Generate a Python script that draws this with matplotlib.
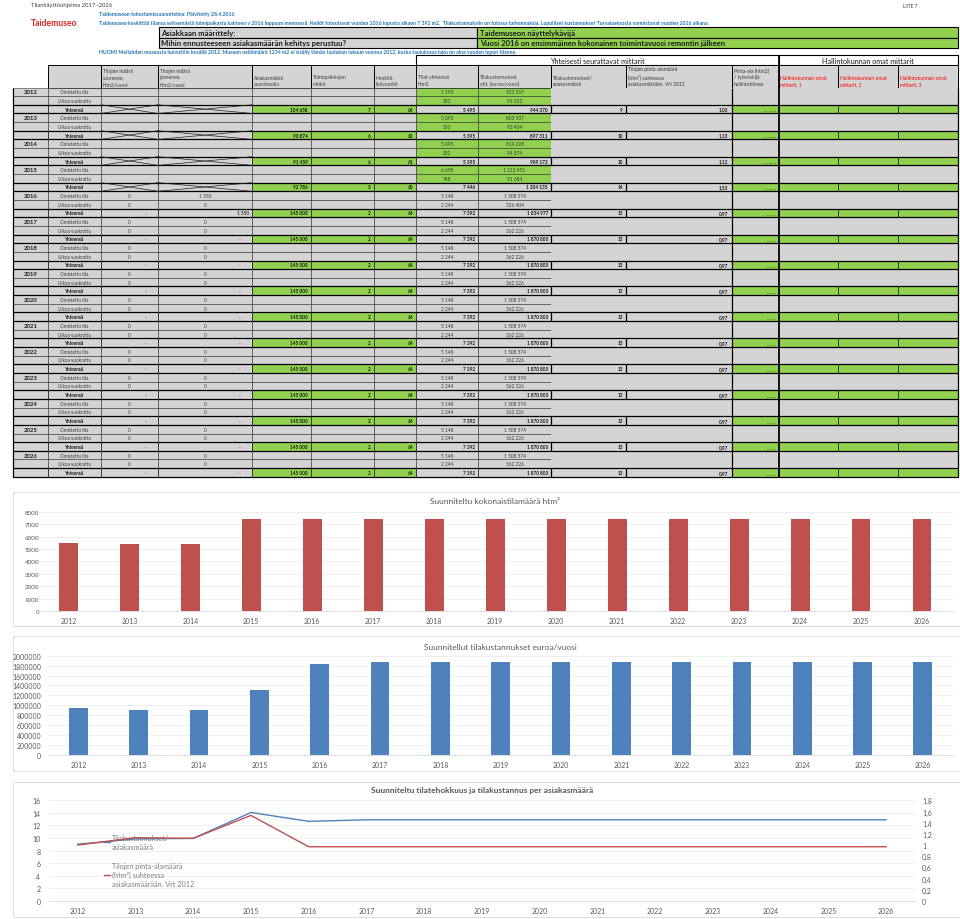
import numpy as np
import matplotlib.pyplot as plt
from matplotlib.patches import Rectangle

plt.rcParams['font.family'] = ['Lato', 'DejaVu Sans']

# ---- data read from the sheet ----
years = [2012, 2013, 2014, 2015, 2016, 2017, 2018, 2019, 2020, 2021, 2022, 2023, 2024, 2025, 2026]

own_area = [5195, 5095, 5095, 6698, 5148, 5148, 5148, 5148, 5148, 5148, 5148, 5148, 5148, 5148, 5148]
rented_area = [300, 300, 300, 748, 2244, 2244, 2244, 2244, 2244, 2244, 2244, 2244, 2244, 2244, 2244]
own_cost = [853357, 803907, 814298, 1212451, 1508574, 1508574, 1508574, 1508574, 1508574, 1508574,
            1508574, 1508574, 1508574, 1508574, 1508574]
rented_cost = [91013, 93404, 94874, 91684, 326404, 362226, 362226, 362226, 362226, 362226,
               362226, 362226, 362226, 362226, 362226]
grow_own = [None, None, None, None, 0, 0, 0, 0, 0, 0, 0, 0, 0, 0, 0]
shrink_own = [None, None, None, None, 1550, 0, 0, 0, 0, 0, 0, 0, 0, 0, 0]
grow_rent = [None, None, None, None, 0, 0, 0, 0, 0, 0, 0, 0, 0, 0, 0]
shrink_rent = [None, None, None, None, 0, 0, 0, 0, 0, 0, 0, 0, 0, 0, 0]
customers = [104658, 90874, 91459, 92786, 145000, 145000, 145000, 145000, 145000, 145000,
             145000, 145000, 145000, 145000, 145000]
sites = [7, 6, 6, 3, 2, 2, 2, 2, 2, 2, 2, 2, 2, 2, 2]
staff_years = [64, 62, 61, 60, 64, 64, 64, 64, 64, 64, 64, 64, 64, 64, 64]
small_note = ['21,07281238', '21,07281238', '21,07281238', '21,24074558', '#JAKO/0!', '#JAKO/0!',
              '#JAKO/0!', '#JAKO/0!', '#JAKO/0!', '#JAKO/0!', '#JAKO/0!', '#JAKO/0!', '#JAKO/0!',
              '#JAKO/0!', '#JAKO/0!']

area_total = [5495, 5395, 5395, 7446, 7392, 7392, 7392, 7392, 7392, 7392, 7392, 7392, 7392, 7392, 7392]
cost_total = [944370, 897311, 909172, 1304135, 1834977, 1870800, 1870800, 1870800, 1870800, 1870800,
              1870800, 1870800, 1870800, 1870800, 1870800]
cost_per_customer = [9.02, 9.87, 9.94, 14.06, 12.66, 12.90, 12.90, 12.90, 12.90, 12.90,
                     12.90, 12.90, 12.90, 12.90, 12.90]
area_vs_2012 = [1.00, 1.13, 1.12, 1.53, 0.97, 0.97, 0.97, 0.97, 0.97, 0.97, 0.97, 0.97, 0.97, 0.97, 0.97]

GRAY = '#D4D4D4'
GREEN = '#92D050'
BLUE = '#2176AE'
TXT = '#3A3A3A'
TICK = '#595959'


def fmt(v):
    return f'{v:,}'.replace(',', ' ')


fig = plt.figure(figsize=(9.6, 9.2), dpi=100)
bg = fig.add_axes([0, 0, 1, 1])
bg.set_xlim(0, 960)
bg.set_ylim(920, 0)
bg.axis('off')


def box(x0, x1, y0, y1, fc, lw=0.4, ec='#303030'):
    bg.add_patch(Rectangle((x0, y0), x1 - x0, y1 - y0, fc=fc, ec=ec if lw else 'none', lw=lw))


def txt(x, y, s, ha='left', size=3.5, bold=False, color=TXT, va='center', **kw):
    bg.text(x, y, s, ha=ha, va=va, fontsize=size, color=color,
            weight='bold' if bold else 'normal', **kw)


# ---- page header ----
txt(31, 6, 'Tilankäyttöohjelma 2017–2026', size=4.2, color='#404040')
txt(903, 6.5, 'LIITE 7', size=3.4, color='#404040')
txt(99, 14.5, 'Taidemuseon tehostamissuunnitelma: Päivitetty 28.4.2016', size=3.7, bold=True, color=BLUE)
txt(31, 23.5, 'Taidemuseo', size=6.2, bold=True, color='#E02424')
txt(99, 23.5, 'Taidemuseo keskittää tilansa seitsemästä toimipaikasta kahteen v 2016 loppuun mennessä. '
    'Neliöt toteutuvat vuoden 2016 lopusta alkaen 7 392 m2.  Tilakustannuksiin on tulossa tarkennuksia. '
    'Lopulliset kustannukset Turvalaaksosta varmistuvat vuoden 2016 alkana.', size=3.68, bold=True, color=BLUE)

box(158.5, 477, 28.3, 38.5, GRAY, lw=0.8, ec='black')
box(477, 958, 28.3, 38.5, GREEN, lw=0.8, ec='black')
box(158.5, 477, 38.5, 48.7, GRAY, lw=0.8, ec='black')
box(477, 958, 38.5, 48.7, GREEN, lw=0.8, ec='black')
txt(161, 33.5, 'Asiakkaan määrittely:', size=5.6, bold=True, color='#1A1A1A')
txt(161, 43.7, 'Mihin ennusteeseen asiakasmäärän kehitys perustuu?', size=5.6, bold=True, color='#1A1A1A')
txt(480, 33.5, 'Taidemuseon näyttelykävijä', size=5.5, bold=True, color='#1A1A1A')
txt(480, 43.7, 'Vuosi 2016 on ensimmäinen kokonainen toimintavuosi remontin jälkeen', size=5.5, bold=True,
    color='#1A1A1A')
txt(99, 52.5, 'HUOM! Meilahden museosta luovuttiin kesällä 2012. Museon neliömäärä 1234 m2 ei sisälly tämän '
    'taulukon lukuun vuonna 2012, koska taulukossa luku on aina vuoden lopun tilanne.', size=3.7, bold=True,
    color=BLUE)

# ---- table ----
cx = [12.7, 48.3, 101, 158, 252, 311, 374, 416, 478, 551, 626, 731.5, 778.5, 838, 898, 958]
top0 = 88.5
rh = 8.65

box(416, 778.5, 56, 66, 'white', lw=0.8, ec='black')
box(778.5, 958, 56, 66, 'white', lw=0.8, ec='black')
txt(597, 61.2, 'Yhteisesti seurattavat mittarit', ha='center', size=5.2, color='#1A1A1A')
txt(868, 61.2, 'Hallintokunnan omat mittarit', ha='center', size=5.2, color='#1A1A1A')

headers = ['', 'Tilojen määrä\nsuurenee,\nhtm2/vuosi', 'Tilojen määrä\npienenee,\nhtm2/vuosi',
           'Asiakasmäärä\nvuositasolla', 'Toimipaikkojen\nmäärä', 'Henkilö-\ntyövuodet',
           'Tilat yhteensä\nhtm2', 'Tilakustannukset\nyht. (euroa/vuosi)', 'Tilakustannukset/\nasiakasmäärä',
           'Tilojen pinta-alamäärä\n(htm²) suhteessa\nasiakasmäärään. Vrt 2012',
           'Pinta-ala (htm2)\n/ työntekijä\nhallintotilossa',
           'Hallintokunnan omat\nmittarit, 1', 'Hallintokunnan omat\nmittarit, 2', 'Hallintokunnan omat\nmittarit, 3']
for c, h in enumerate(headers, start=1):
    box(cx[c], cx[c + 1], 66, top0, GRAY, lw=0.7, ec='black')
    col = '#FF0000' if c >= 12 else TXT
    txt(cx[c] + 2, top0 - 1.2, h, size=3.6, color=col, va='bottom', linespacing=1.45)


def cross(c, y0, y1):
    bg.plot([cx[c], cx[c + 1]], [y0, y1], color='#202020', lw=0.5)
    bg.plot([cx[c], cx[c + 1]], [y1, y0], color='#202020', lw=0.5)


for i, yr in enumerate(years):
    y0 = top0 + 3 * i * rh
    r = [y0, y0 + rh, y0 + 2 * rh, y0 + 3 * rh]
    part_fc = GRAY if yr >= 2016 else GREEN
    for k in range(2):
        for c in range(7):
            box(cx[c], cx[c + 1], r[k], r[k + 1], GRAY)
        box(cx[7], cx[8], r[k], r[k + 1], part_fc)
        box(cx[8], cx[9], r[k], r[k + 1], part_fc)
    box(cx[9], cx[11], r[0], r[2], GRAY, lw=0)
    box(cx[11], cx[12], r[0], r[2], GRAY, lw=0)
    box(cx[12], cx[15], r[0], r[2], GRAY, lw=0)
    tot_fc = [GRAY] * 4 + [GREEN] * 3 + [GRAY] * 4 + [GREEN] * 4
    for c in range(15):
        box(cx[c], cx[c + 1], r[2], r[3], tot_fc[c], lw=0.6)
    bg.hlines([r[2], r[3]], cx[0], cx[-1], color='black', lw=0.9)
    bg.vlines([cx[9], cx[10]], r[2], r[3], color='black', lw=0.9)

    ym = [(r[k] + r[k + 1]) / 2 for k in range(3)]
    txt((cx[0] + cx[1]) / 2, ym[0], str(yr), ha='center', size=4.3, bold=True, color='#1A1A1A')
    txt((cx[1] + cx[2]) / 2, ym[0], 'Omistettu tila', ha='center', size=3.3)
    txt((cx[1] + cx[2]) / 2, ym[1], 'Ulkoa vuokrattu', ha='center', size=3.3)
    txt((cx[1] + cx[2]) / 2, ym[2], 'Yhteensä', ha='center', size=3.3, bold=True, color='#1A1A1A')

    for k, (g, s) in enumerate([(grow_own[i], shrink_own[i]), (grow_rent[i], shrink_rent[i])]):
        if g is not None:
            txt((cx[2] + cx[3]) / 2, ym[k], fmt(g), ha='center', size=3.4)
            txt((cx[3] + cx[4]) / 2, ym[k], fmt(s), ha='center', size=3.4)
    txt((cx[7] + cx[8]) / 2, ym[0], fmt(own_area[i]), ha='center', size=3.4)
    txt((cx[8] + cx[9]) / 2, ym[0], fmt(own_cost[i]), ha='center', size=3.4)
    txt((cx[7] + cx[8]) / 2, ym[1], fmt(rented_area[i]), ha='center', size=3.4)
    txt((cx[8] + cx[9]) / 2, ym[1], fmt(rented_cost[i]), ha='center', size=3.4)

    if grow_own[i] is None:
        cross(2, r[2], r[3])
        cross(3, r[2], r[3])
    else:
        g_tot = grow_own[i] + grow_rent[i]
        s_tot = shrink_own[i] + shrink_rent[i]
        txt(cx[3] - 12, ym[2], fmt(g_tot) if g_tot else '-', ha='right', size=3.4)
        if s_tot:
            txt(cx[4] - 3, ym[2], fmt(s_tot), ha='right', size=3.4, bold=True)
        else:
            txt(cx[4] - 12, ym[2], '-', ha='right', size=3.4)

    tot_vals = [fmt(customers[i]), str(sites[i]), str(staff_years[i]), fmt(area_total[i]),
                fmt(cost_total[i]), str(int(round(cost_per_customer[i]))),
                f'{area_vs_2012[i]:.2f}'.replace('.', ',')]
    for c, s in zip(range(4, 11), tot_vals):
        txt(cx[c + 1] - 3, ym[2], s, ha='right', size=3.4, bold=True, color='#1A1A1A')
    txt(cx[12] - 2, ym[2] + 1.5, small_note[i], ha='right', size=1.6, color='#2E5E10')

tbl_bottom = top0 + 45 * rh
bg.vlines([cx[0], cx[15]], top0, tbl_bottom, color='black', lw=0.9)
bg.vlines([cx[11]], top0, tbl_bottom, color='black', lw=0.9)
bg.vlines([cx[12]], 56, tbl_bottom, color='black', lw=1.3)

# ---- charts ----
for fy0, fy1 in [(493, 627), (636.5, 772), (783, 917.5)]:
    box(12.5, 975, fy0, fy1, 'white', lw=0.7, ec='#DDDDDD')


def px_axes(l, t, rr, b):
    return fig.add_axes([l / 960, 1 - b / 920, (rr - l) / 960, (b - t) / 920])


def style(ax, fs_y):
    ax.set_facecolor('none')
    for s in ax.spines.values():
        s.set_visible(False)
    ax.spines['bottom'].set_visible(True)
    ax.spines['bottom'].set_color('#D9D9D9')
    ax.spines['bottom'].set_linewidth(0.6)
    ax.grid(axis='y', color='#ECECEC', lw=0.6)
    ax.set_axisbelow(True)
    ax.set_xticks(range(len(years)))
    ax.set_xticklabels([str(y) for y in years])
    ax.set_xlim(-0.5, len(years) - 0.5)
    ax.tick_params(axis='both', length=0, colors=TICK)
    ax.tick_params(axis='x', labelsize=5, pad=4.5)
    ax.tick_params(axis='y', labelsize=fs_y)


x = np.arange(len(years))

ax1 = px_axes(37.8, 512.7, 952.5, 612)
ax1.bar(x, area_total, width=0.31, color='#C0504D')
ax1.set_ylim(0, 8000)
t1 = list(range(0, 8001, 1000))
ax1.set_yticks(t1)
ax1.set_yticklabels([str(t) for t in t1])
style(ax1, 4.5)
ax1.tick_params(axis='y', pad=-1)
ax1.set_title('Suunniteltu kokonaistilamäärä htm²', fontsize=6, color=TICK, pad=6)

ax2 = px_axes(48.3, 656.7, 953, 756)
ax2.bar(x, cost_total, width=0.31, color='#4F81BD')
ax2.set_ylim(0, 2000000)
t2 = list(range(0, 2000001, 200000))
ax2.set_yticks(t2)
ax2.set_yticklabels([str(t) for t in t2])
style(ax2, 5)
ax2.tick_params(axis='y', pad=5)
ax2.set_title('Suunnitellut tilakustannukset euroa/vuosi', fontsize=6, color=TICK, pad=5)

ax3 = px_axes(48.8, 801.3, 915, 902)
l1, = ax3.plot(x, cost_per_customer, color='#4F81BD', lw=1.0, zorder=3)
ax3.set_ylim(0, 16)
ax3.set_yticks(range(0, 17, 2))
style(ax3, 5)
ax3.tick_params(axis='y', pad=6)
ax3r = ax3.twinx()
l2, = ax3r.plot(x, area_vs_2012, color='#C0504D', lw=1.0)
ax3r.set_ylim(0, 1.8)
r_ticks = [0, 0.2, 0.4, 0.6, 0.8, 1.0, 1.2, 1.4, 1.6, 1.8]
ax3r.set_yticks(r_ticks)
ax3r.set_yticklabels([f'{t:g}'.replace('.', ',') for t in r_ticks])
for s in ax3r.spines.values():
    s.set_visible(False)
ax3r.tick_params(axis='y', length=0, colors=TICK, labelsize=5, pad=5)
ax3.set_title('Suunniteltu tilatehokkuus ja tilakustannus per asiakasmäärä', fontsize=6, color=TICK,
              pad=6, weight='bold')
leg = ax3.legend([l1, l2], ['Tilakustannukset/\nasiakasmäärä',
                            'Tilojen pinta-alamäärä\n(htm²) suhteessa\nasiakasmäärään. Vrt 2012'],
                 loc='upper left', bbox_to_anchor=(104 / 960, 1 - 835 / 920), bbox_transform=fig.transFigure,
                 frameon=False, fontsize=5.2, handlelength=0.8, handletextpad=0.3, labelspacing=1.7,
                 labelcolor='#7F7F7F', borderpad=0, borderaxespad=0)
for t in leg.get_texts():
    t.set_linespacing(1.3)
leg.set_zorder(1)

fig.savefig('out.png', dpi=100)
